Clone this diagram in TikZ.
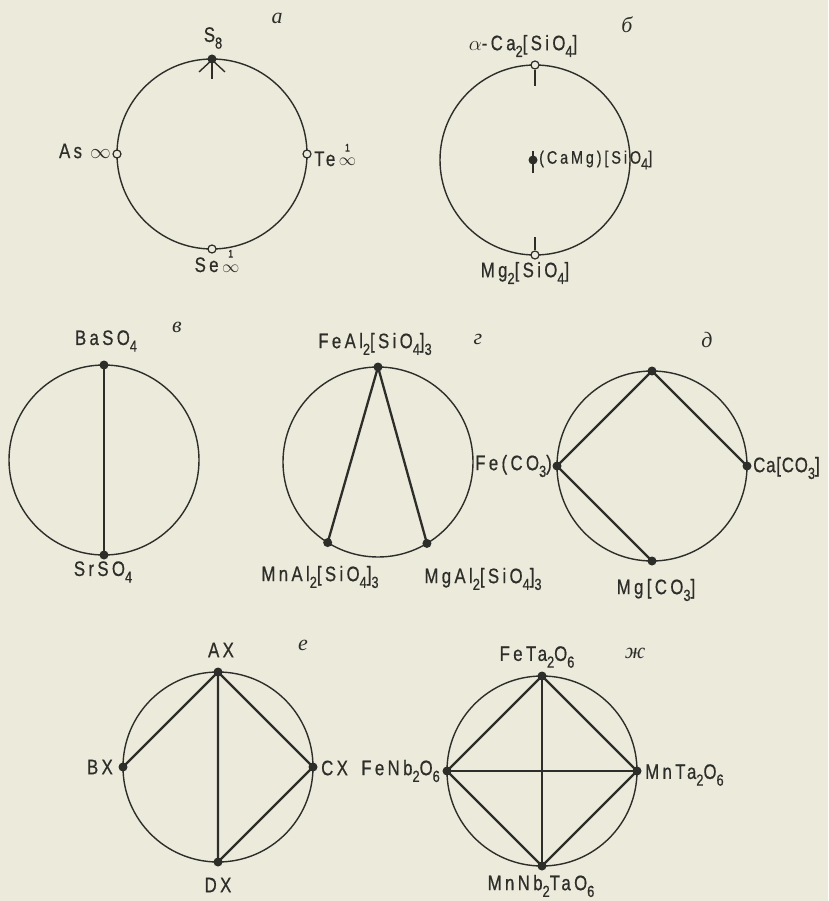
\documentclass[tikz,border=0pt]{standalone}
\usepackage{fontspec}
\setmainfont{Liberation Sans}[FakeStretch=0.8, LetterSpace=16, FakeBold=0.6]
\newfontfamily\cyrfont{Liberation Serif}
\usetikzlibrary{arrows.meta}
\definecolor{paper}{RGB}{236,234,219}
\definecolor{ink}{RGB}{45,45,42}
\newcommand\lbf{\fontsize{21}{24}\selectfont}
\newcommand\lbs{\fontsize{18}{21}\selectfont}
\newcommand\lo[1]{\raisebox{-0.32em}{\fontsize{16}{16}\selectfont #1}}
\newcommand\chainsym{\,\shortstack[c]{\fontsize{11}{11}\selectfont 1\\[4pt]\fontsize{17}{17}\selectfont$\infty$}}
\begin{document}
\begin{tikzpicture}[x=1pt,y=-1pt,
  ring/.style={circle, draw=ink, line width=1.4pt, minimum size=190pt, inner sep=0pt, outer sep=0pt},
  chord/.style={draw=ink, line width=2.3pt},
  tick/.style={draw=ink, line width=1.4pt},
  dot/.style={circle, fill=ink, inner sep=0pt, minimum size=9pt},
  odot/.style={circle, draw=ink, fill=paper, line width=1.2pt, inner sep=0pt, minimum size=8pt},
  lab/.style={font=\lbf, text=ink, inner sep=0pt},
  labs/.style={font=\lbs, text=ink, inner sep=0pt},
  tag/.style={font=\cyrfont\itshape\fontsize{22}{24}\selectfont, text=ink, inner sep=0pt}]
\fill[paper] (0,0) rectangle (828,901);
\useasboundingbox (0,0) rectangle (828,901);

% ---------- a ----------
\node[ring] (A) at (212,154) {};
\node[dot] (a1) at (A.north) {};
\node[odot] (a2) at (A.west) {};
\node[odot] (a3) at (A.east) {};
\node[odot] (a4) at (A.south) {};
\coordinate (a1t) at (212,79);
\draw[draw=ink, line width=1.4pt, -{Straight Barb[length=12pt,width=26pt,line width=1.4pt]}] (a1t) -- (a1.center);
\node[tag] (ta) at (277,18) {а};
\node[lab] (la1) at (213,38) {S\lo{8}};
\node[lab, anchor=east] (la2) at (111,151) {As $\infty$};
\node[lab, anchor=base west] (la3) at (314,166) {Te\chainsym};
\node[lab, anchor=base] (la4) at (217,272) {Se\chainsym};

% ---------- b ----------
\node[ring] (B) at (535,160) {};
\node[odot] (b1) at (B.north) {};
\node[odot] (b2) at (B.south) {};
\coordinate (b1t) at (535,86);
\coordinate (b2t) at (535,237);
\draw[tick] (b1.south) -- (b1t);
\draw[tick] (b2.north) -- (b2t);
\node[dot] (b3) at (533,160) {};
\coordinate (b3u) at (533,151);
\coordinate (b3d) at (533,173);
\draw[tick] (b3u) -- (b3d);
\node[tag] (tb) at (627,25) {б};
\node[lab] (lb1) at (523,46) {$\alpha$-Ca\lo{2}[SiO\lo{4}]};
\node[lab] (lb2) at (525,273) {Mg\lo{2}[SiO\lo{4}]};
\node[labs, anchor=west] (lb3) at (539,160) {(CaMg)[SiO\lo{4}]};

% ---------- v ----------
\node[ring] (V) at (104,460) {};
\node[dot] (v1) at (V.north) {};
\node[dot] (v2) at (V.south) {};
\draw[chord] (v1.center) -- (v2.center);
\node[tag] (tv) at (177,327) {в};
\node[lab] (lv1) at (106,341) {BaSO\lo{4}};
\node[lab] (lv2) at (103,572) {SrSO\lo{4}};

% ---------- g ----------
\node[ring] (G) at (378,462) {};
\node[dot] (g1) at (G.north) {};
\node[dot] (g2) at (G.238) {};
\node[dot] (g3) at (G.301) {};
\draw[chord] (g1.center) -- (g2.center);
\draw[chord] (g1.center) -- (g3.center);
\node[tag] (tg) at (478,339) {г};
\node[lab] (lg1) at (375,344) {FeAl\lo{2}[SiO\lo{4}]\lo{3}};
\node[lab] (lg2) at (320,577) {MnAl\lo{2}[SiO\lo{4}]\lo{3}};
\node[lab] (lg3) at (483,579) {MgAl\lo{2}[SiO\lo{4}]\lo{3}};

% ---------- d ----------
\node[ring] (D) at (652,466) {};
\node[dot] (d1) at (D.north) {};
\node[dot] (d2) at (D.west) {};
\node[dot] (d3) at (D.east) {};
\node[dot] (d4) at (D.south) {};
\draw[chord] (d2.center) -- (d1.center) -- (d3.center);
\draw[chord] (d2.center) -- (d4.center);
\node[tag] (td) at (707,340) {д};
\node[lab, anchor=east] (ld1) at (552,466) {Fe(CO\lo{3})};
\node[lab, anchor=west] (ld2) at (753,468) {\addfontfeature{LetterSpace=4}Ca[CO\lo{3}]};
\node[lab] (ld3) at (656,590) {Mg[CO\lo{3}]};

% ---------- e ----------
\node[ring] (E) at (218,767) {};
\node[dot] (e1) at (E.north) {};
\node[dot] (e2) at (E.west) {};
\node[dot] (e3) at (E.east) {};
\node[dot] (e4) at (E.south) {};
\draw[chord] (e2.center) -- (e1.center) -- (e3.center) -- (e4.center) -- (e1.center);
\node[tag] (te) at (303,645) {е};
\node[lab] (le1) at (221,650) {AX};
\node[lab, anchor=east] (le2) at (113,767) {BX};
\node[lab, anchor=west] (le3) at (321,768) {CX};
\node[lab] (le4) at (218,885) {DX};

% ---------- zh ----------
\node[ring] (Z) at (542,771) {};
\node[dot] (z1) at (Z.north) {};
\node[dot] (z2) at (Z.west) {};
\node[dot] (z3) at (Z.east) {};
\node[dot] (z4) at (Z.south) {};
\draw[chord] (z1.center) -- (z3.center) -- (z4.center) -- (z2.center) -- cycle;
\draw[chord] (z1.center) -- (z4.center);
\draw[chord] (z2.center) -- (z3.center);
\node[tag] (tz) at (635,653) {ж};
\node[lab] (lz1) at (537,657) {FeTa\lo{2}O\lo{6}};
\node[lab, anchor=west] (lz2) at (645,775) {MnTa\lo{2}O\lo{6}};
\node[lab, anchor=east] (lz3) at (440,771) {FeNb\lo{2}O\lo{6}};
\node[lab] (lz4) at (541,886) {MnNb\lo{2}TaO\lo{6}};
\end{tikzpicture}
\end{document}
